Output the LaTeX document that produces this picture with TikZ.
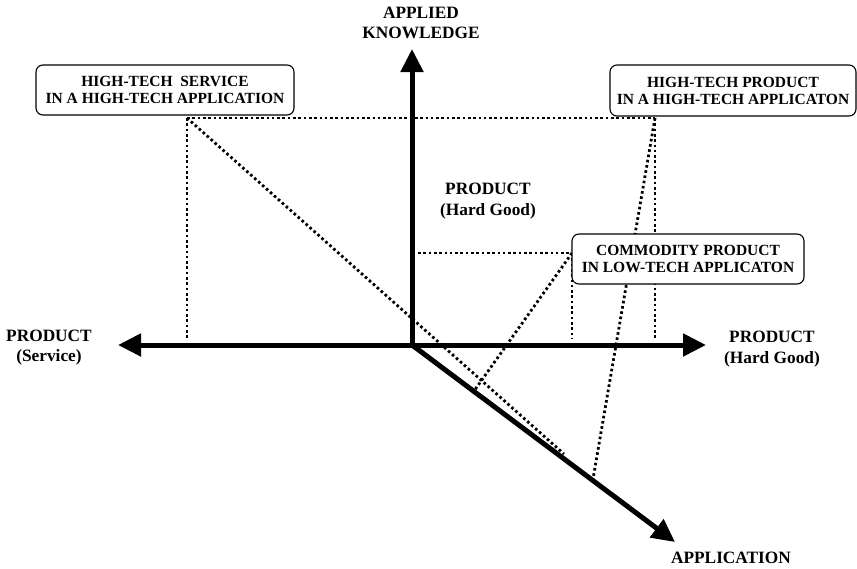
\documentclass[tikz,border=0pt]{standalone}
\usepackage{fontspec}
\setmainfont{Liberation Serif}
\usetikzlibrary{arrows.meta}
\begin{document}
\begin{tikzpicture}[x=1pt,y=-1pt,
  axis/.style={line width=5pt,-{Triangle[length=23pt,width=22pt]}},
  guide/.style={line width=2.8pt,dash pattern=on 2.6pt off 2.7pt},
  casebox/.style={draw,fill=white,line width=1.1pt,rounded corners=7pt,
    inner sep=0pt,align=center,font=\bfseries\fontsize{15.5}{17}\selectfont},
  axislabel/.style={align=center,inner sep=0pt,
    font=\bfseries\fontsize{17.3}{20.5}\selectfont}]
\useasboundingbox (0,0) rectangle (857,568);

% origin and axis tips
\coordinate (O) at (412,345);
\coordinate (knowTip) at (412,49);
\coordinate (servTip) at (118,345);
\coordinate (hardTip) at (706,345);
\coordinate (appTip) at (675,542);

% reference points of the three cases
\coordinate (svc) at (187,118);
\coordinate (hpc) at (655,118);
\coordinate (cmc) at (572,253);
\coordinate (svcFoot) at (187,338);
\coordinate (hpcFoot) at (655,338);
\coordinate (cmcFoot) at (572,338);
\coordinate (cmcKnow) at (418,253);
\coordinate (svcApp) at (564,454);
\coordinate (hpcApp) at (593,479);
\coordinate (cmcApp) at (474,391);

% projection lines
\draw[guide] (svc) -- (hpc);
\draw[guide] (svc) -- (svcFoot);
\draw[guide] (svc) -- (svcApp);
\draw[guide] (hpc) -- (hpcFoot);
\draw[guide] (hpc) -- (hpcApp);
\draw[guide] (cmcKnow) -- (cmc);
\draw[guide] (cmc) -- (cmcFoot);
\draw[guide] (cmc) -- (cmcApp);

% axes
\draw[axis] (O) -- (knowTip);
\draw[axis] (O) -- (servTip);
\draw[axis] (O) -- (hardTip);
\draw[axis] (O) -- (appTip);

% case boxes
\node[casebox,minimum width=258pt,minimum height=50pt] (svcBox) at (165,90)
  {HIGH-TECH\ \ SERVICE\\IN A HIGH-TECH APPLICATION};
\node[casebox,minimum width=246pt,minimum height=51pt] (hpcBox) at (733,90.5)
  {HIGH-TECH PRODUCT\\IN A HIGH-TECH APPLICATON};
\node[casebox,minimum width=232pt,minimum height=50pt] (cmcBox) at (688,259)
  {COMMODITY PRODUCT\\IN LOW-TECH APPLICATON};

% axis labels
\node[axislabel] (knowLbl) at (421,23) {APPLIED\\KNOWLEDGE};
\node[axislabel] (midLbl) at (488,201) {PRODUCT\\(Hard Good)};
\node[axislabel] (servLbl) at (49,347.5) {PRODUCT\\(Service)};
\node[axislabel] (hardLbl) at (772,349) {PRODUCT\\(Hard Good)};
\node[axislabel] (appLbl) at (731,558) {APPLICATION};
\end{tikzpicture}
\end{document}
